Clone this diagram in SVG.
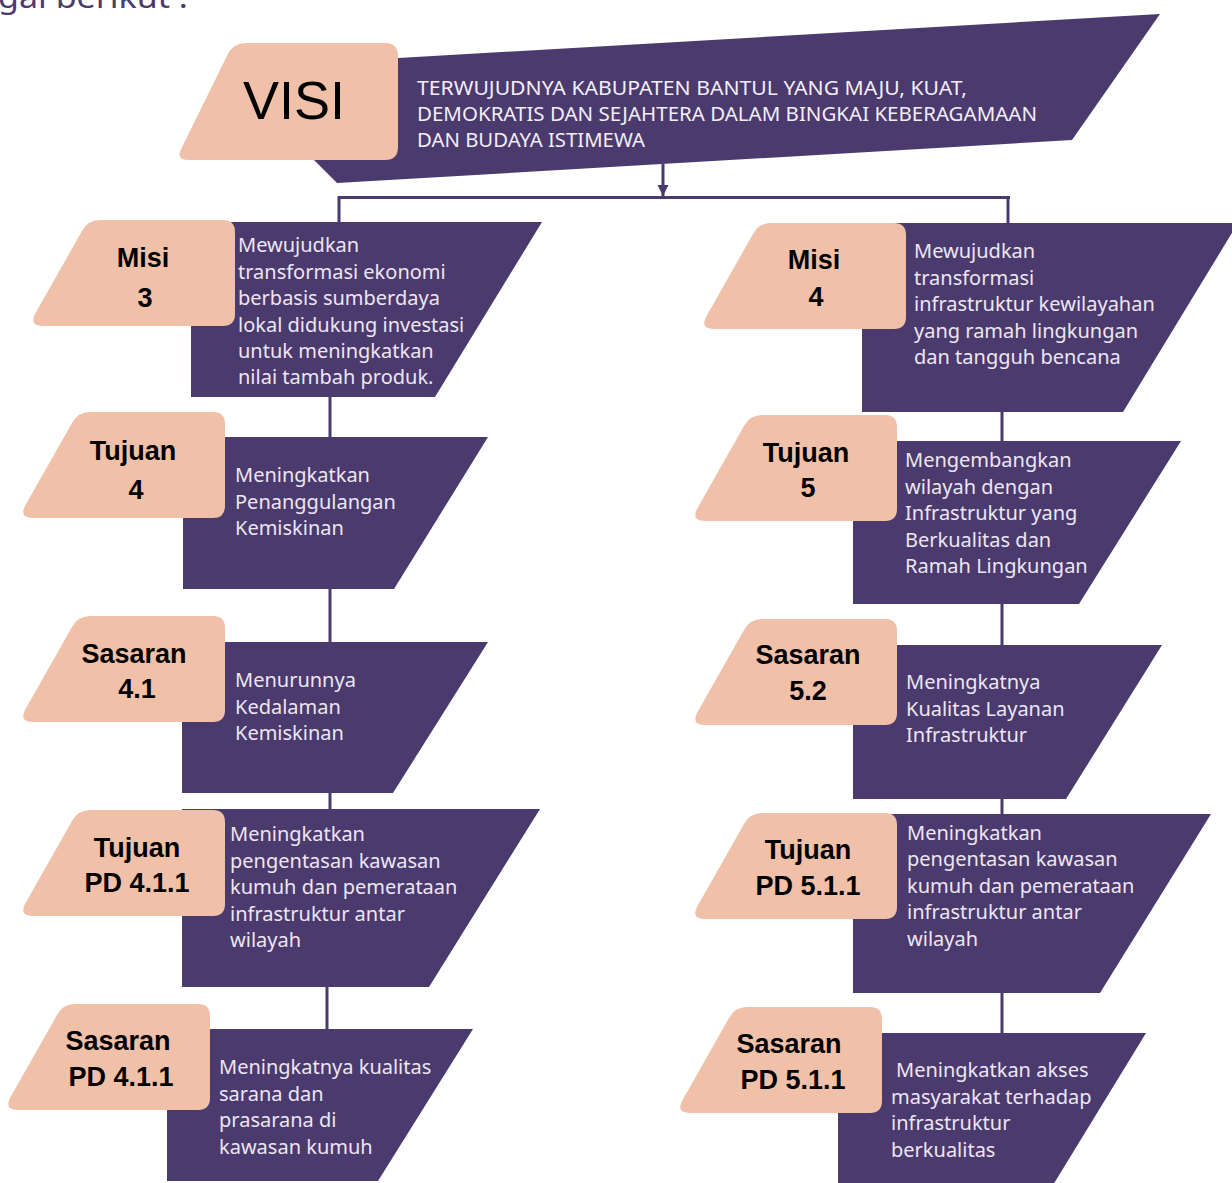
<svg xmlns="http://www.w3.org/2000/svg" xmlns:xlink="http://www.w3.org/1999/xlink" width="1232" height="1183" viewBox="0 0 1232 1183">
<style>
.bg{fill:#ffffff}
.peach{fill:#f0c0a8}
.box{fill:#4b3a6d}
.lbl{font-family:"Liberation Sans",Arial,sans-serif;font-weight:bold;font-size:27px;fill:#000000;text-anchor:middle}
.txt{font-family:"Noto Sans","Open Sans",sans-serif;font-size:20px;fill:#ece6f2}
.visi{font-family:"Noto Sans","Open Sans",sans-serif;font-size:19px;fill:#f2eef7}
.conn{stroke:#4b3a6d;stroke-width:3;fill:none}
</style>
<defs>
<path id="peachShape" class="peach" d="M67,0 L190,0 Q202,0 202,12 L202,94 Q202,106 190,106 L10,106 Q-4,106 2,94 L49,11 Q55,0 67,0 Z"/>
<marker id="arrow" viewBox="0 0 10 10" refX="10" refY="5" markerWidth="11" markerHeight="16" markerUnits="userSpaceOnUse" orient="auto">
<path d="M0,0 L10,5 L0,10 Z" fill="#4b3a6d"/>
</marker>
</defs>
<rect class="bg" x="0" y="0" width="1232" height="1183"/>
<text x="-2" y="8" font-family="Noto Sans, sans-serif" font-size="30" fill="#4b3a6d" textLength="190" lengthAdjust="spacingAndGlyphs">gai berikut :</text>

<g id="connectors">
<line class="conn" x1="663" y1="164" x2="663" y2="196" marker-end="url(#arrow)"/>
<line class="conn" x1="338" y1="197.5" x2="1010" y2="197.5"/>
<line class="conn" x1="339" y1="196" x2="339" y2="224"/>
<line class="conn" x1="1008" y1="196" x2="1008" y2="225"/>
<line class="conn" x1="330" y1="396" x2="330" y2="439"/>
<line class="conn" x1="330" y1="588" x2="330" y2="644"/>
<line class="conn" x1="330" y1="792" x2="330" y2="811"/>
<line class="conn" x1="327" y1="986" x2="327" y2="1031"/>
<line class="conn" x1="1002" y1="411" x2="1002" y2="443"/>
<line class="conn" x1="1002" y1="603" x2="1002" y2="647"/>
<line class="conn" x1="1002" y1="798" x2="1002" y2="816"/>
<line class="conn" x1="1002" y1="992" x2="1002" y2="1035"/>
</g>

<g id="visi">
<polygon class="box" points="330,62 1160,14 1072,140 337,183 300,146"/>
<path class="peach" d="M246,43 L385,43 Q398,43 398,56 L398,147 Q398,160 385,160 L189,160 Q175,160 181.5,148.2 L227.5,54.8 Q233,43 246,43 Z"/>
<text x="294" y="119" font-family="Liberation Sans, Arial, sans-serif" font-size="54" fill="#000000" text-anchor="middle">VISI</text>
<text class="visi" x="417" y="95" textLength="550" lengthAdjust="spacingAndGlyphs">TERWUJUDNYA KABUPATEN BANTUL YANG MAJU, KUAT,</text>
<text class="visi" x="417" y="121" textLength="620" lengthAdjust="spacingAndGlyphs">DEMOKRATIS DAN SEJAHTERA DALAM BINGKAI KEBERAGAMAAN</text>
<text class="visi" x="417" y="147" textLength="228" lengthAdjust="spacingAndGlyphs">DAN BUDAYA ISTIMEWA</text>
</g>

<g id="misi3">
<polygon class="box" points="191,222 542,222 435,397 191,397"/>
<use xlink:href="#peachShape" x="33" y="220"/>
<text class="lbl" x="143" y="267">Misi</text>
<text class="lbl" x="145" y="307">3</text>
<text class="txt" x="238" y="252">Mewujudkan</text>
<text class="txt" x="238" y="278.5">transformasi ekonomi</text>
<text class="txt" x="238" y="305">berbasis sumberdaya</text>
<text class="txt" x="238" y="331.5">lokal didukung investasi</text>
<text class="txt" x="238" y="358">untuk meningkatkan</text>
<text class="txt" x="238" y="384">nilai tambah produk.</text>
</g>

<g id="tujuan4">
<polygon class="box" points="183,437 488,437 394,589 183,589"/>
<use xlink:href="#peachShape" x="23" y="412"/>
<text class="lbl" x="133" y="460">Tujuan</text>
<text class="lbl" x="136" y="499">4</text>
<text class="txt" x="235" y="482">Meningkatkan</text>
<text class="txt" x="235" y="508.5">Penanggulangan</text>
<text class="txt" x="235" y="535">Kemiskinan</text>
</g>

<g id="sasaran41">
<polygon class="box" points="182,642 488,642 393,793 182,793"/>
<use xlink:href="#peachShape" x="23" y="616"/>
<text class="lbl" x="134" y="663">Sasaran</text>
<text class="lbl" x="137" y="698">4.1</text>
<text class="txt" x="235" y="687">Menurunnya</text>
<text class="txt" x="235" y="713.5">Kedalaman</text>
<text class="txt" x="235" y="740">Kemiskinan</text>
</g>

<g id="tujuanpd411">
<polygon class="box" points="182,809 540,809 429,987 182,987"/>
<use xlink:href="#peachShape" x="23" y="810"/>
<text class="lbl" x="137" y="857">Tujuan</text>
<text class="lbl" x="137" y="892">PD 4.1.1</text>
<text class="txt" x="230" y="841">Meningkatkan</text>
<text class="txt" x="230" y="867.5">pengentasan kawasan</text>
<text class="txt" x="230" y="894">kumuh dan pemerataan</text>
<text class="txt" x="230" y="920.5">infrastruktur antar</text>
<text class="txt" x="230" y="947">wilayah</text>
</g>

<g id="sasaranpd411">
<polygon class="box" points="167,1029 473,1029 378,1181 167,1181"/>
<use xlink:href="#peachShape" x="8" y="1004"/>
<text class="lbl" x="118" y="1050">Sasaran</text>
<text class="lbl" x="121" y="1086">PD 4.1.1</text>
<text class="txt" x="219" y="1074">Meningkatnya kualitas</text>
<text class="txt" x="219" y="1101">sarana dan</text>
<text class="txt" x="219" y="1127">prasarana di</text>
<text class="txt" x="219" y="1154">kawasan kumuh</text>
</g>

<g id="misi4">
<polygon class="box" points="862,223 1238,223 1123,412 862,412"/>
<use xlink:href="#peachShape" x="704" y="223"/>
<text class="lbl" x="814" y="269">Misi</text>
<text class="lbl" x="816" y="306">4</text>
<text class="txt" x="914" y="258">Mewujudkan</text>
<text class="txt" x="914" y="284.5">transformasi</text>
<text class="txt" x="914" y="311">infrastruktur kewilayahan</text>
<text class="txt" x="914" y="337.5">yang ramah lingkungan</text>
<text class="txt" x="914" y="364">dan tangguh bencana</text>
</g>

<g id="tujuan5">
<polygon class="box" points="853,441 1181,441 1079,604 853,604"/>
<use xlink:href="#peachShape" x="695" y="415"/>
<text class="lbl" x="806" y="462">Tujuan</text>
<text class="lbl" x="808" y="497">5</text>
<text class="txt" x="905" y="467">Mengembangkan</text>
<text class="txt" x="905" y="493.5">wilayah dengan</text>
<text class="txt" x="905" y="520">Infrastruktur yang</text>
<text class="txt" x="905" y="546.5">Berkualitas dan</text>
<text class="txt" x="905" y="573">Ramah Lingkungan</text>
</g>

<g id="sasaran52">
<polygon class="box" points="853,645 1162,645 1066,799 853,799"/>
<use xlink:href="#peachShape" x="695" y="619"/>
<text class="lbl" x="808" y="664">Sasaran</text>
<text class="lbl" x="808" y="700">5.2</text>
<text class="txt" x="906" y="689">Meningkatnya</text>
<text class="txt" x="906" y="716">Kualitas Layanan</text>
<text class="txt" x="906" y="742">Infrastruktur</text>
</g>

<g id="tujuanpd511">
<polygon class="box" points="853,814 1211,814 1100,993 853,993"/>
<use xlink:href="#peachShape" x="695" y="813"/>
<text class="lbl" x="808" y="859">Tujuan</text>
<text class="lbl" x="808" y="895">PD 5.1.1</text>
<text class="txt" x="907" y="840">Meningkatkan</text>
<text class="txt" x="907" y="866">pengentasan kawasan</text>
<text class="txt" x="907" y="892.5">kumuh dan pemerataan</text>
<text class="txt" x="907" y="919">infrastruktur antar</text>
<text class="txt" x="907" y="945.5">wilayah</text>
</g>

<g id="sasaranpd511">
<polygon class="box" points="838,1033 1146,1033 1050,1190 838,1190"/>
<use xlink:href="#peachShape" x="680" y="1007"/>
<text class="lbl" x="789" y="1053">Sasaran</text>
<text class="lbl" x="793" y="1089">PD 5.1.1</text>
<text class="txt" x="896" y="1077">Meningkatkan akses</text>
<text class="txt" x="891" y="1104">masyarakat terhadap</text>
<text class="txt" x="891" y="1130">infrastruktur</text>
<text class="txt" x="891" y="1157">berkualitas</text>
</g>
</svg>
